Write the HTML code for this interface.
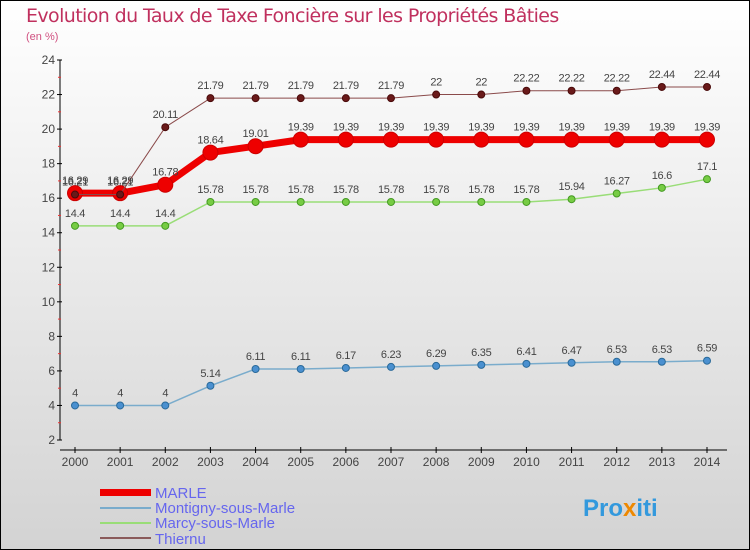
<!DOCTYPE html>
<html><head><meta charset="utf-8"><style>
body{margin:0}
#c{width:750px;height:550px;position:relative;box-sizing:border-box;border:1px solid #000;background:linear-gradient(#fff 0%,#f2f2f2 30%,#d3d3d3 100%);font-family:"DejaVu Sans","Liberation Sans",sans-serif;overflow:hidden}
svg text{font-family:"Liberation Sans",sans-serif}
</style></head><body>
<div id="c">
<svg id="s" width="750" height="550" style="position:absolute;left:-1px;top:-1px">
<text x="26" y="22" font-size="19" fill="#c0305e" style="letter-spacing:-0.6px;font-family:'DejaVu Sans',sans-serif">Evolution du Taux de Taxe Foncière sur les Propriétés Bâties</text>
<text x="26" y="40" font-size="11" fill="#d05080">(en %)</text>
<g id="ax"></g><g id="series"></g>
<g>
<rect x="100" y="489" width="51" height="7" fill="#ee0000"/>
<text x="155" y="498" font-size="15" fill="#6666ee">MARLE</text>
<rect x="100" y="507" width="51" height="2" fill="#7aaccc"/>
<text x="155" y="513" font-size="15" fill="#6666ee">Montigny-sous-Marle</text>
<rect x="100" y="522" width="51" height="2" fill="#99dd77"/>
<text x="155" y="528" font-size="15" fill="#6666ee">Marcy-sous-Marle</text>
<rect x="100" y="537" width="51" height="2" fill="#8a5a5a"/>
<text x="155" y="544" font-size="15" fill="#6666ee">Thiernu</text>
</g>
<text x="583" y="516" font-size="24" font-weight="bold" fill="#3399dd">Pro<tspan fill="#ee8800">x</tspan>iti</text>
</svg></div>
<script>
const years=[2000,2001,2002,2003,2004,2005,2006,2007,2008,2009,2010,2011,2012,2013,2014];
const marle=[16.29,16.29,16.78,18.64,19.01,19.39,19.39,19.39,19.39,19.39,19.39,19.39,19.39,19.39,19.39];
const montigny=[4,4,4,5.14,6.11,6.11,6.17,6.23,6.29,6.35,6.41,6.47,6.53,6.53,6.59];
const marcy=[14.4,14.4,14.4,15.78,15.78,15.78,15.78,15.78,15.78,15.78,15.78,15.94,16.27,16.6,17.1];
const thiernu=[16.21,16.21,20.11,21.79,21.79,21.79,21.79,21.79,22,22,22.22,22.22,22.22,22.44,22.44];
const yTicks=[2,4,6,8,10,12,14,16,18,20,22,24];
const NS="http://www.w3.org/2000/svg";
const X=i=>75+i*(707-75)/(years.length-1);
const Y=v=>440-(v-2)*(380/22);
function mk(t,a,p){const e=document.createElementNS(NS,t);for(const k in a)e.setAttribute(k,a[k]);p.appendChild(e);return e;}
const ax=document.getElementById('ax');
let l=mk('line',{x1:60,y1:60,x2:60,y2:440,stroke:'#000'},ax);


l=mk('line',{x1:60,y1:450,x2:727,y2:450,stroke:'#000'},ax);


yTicks.forEach(v=>{mk('line',{x1:57,y1:Y(v),x2:62,y2:Y(v),stroke:'#000'},ax);
 if(v<24)mk('line',{x1:58,y1:Y(v+1),x2:61,y2:Y(v+1),stroke:'#e33'},ax);
 const t=mk('text',{x:55,y:Y(v)+4,'font-size':12,'text-anchor':'end',fill:'#444'},ax);t.textContent=v;
 
 });
years.forEach((y,i)=>{mk('line',{x1:X(i),y1:447,x2:X(i),y2:453,stroke:'#000'},ax);
 const t=mk('text',{x:X(i),y:466,'font-size':12,'text-anchor':'middle',fill:'#444'},ax);t.textContent=y;
 
 });
const sg=document.getElementById('series');
function draw(name,vals,col,w,r,dot,stroke){
 const g=mk('g',{},sg);
 
 
 mk('polyline',{points:vals.map((v,i)=>X(i)+','+Y(v)).join(' '),fill:'none',stroke:col,'stroke-width':w,'stroke-linejoin':'round'},g);
 vals.forEach((v,i)=>{const c=mk('circle',{cx:X(i),cy:Y(v),r:r,fill:dot,stroke:stroke,'stroke-width':1},g);
  
  
  const t=mk('text',{x:X(i),y:Y(v)-9,'font-size':11,'text-anchor':'middle',fill:'#444','letter-spacing':'-0.3'},g);t.textContent=v;
  
  });
}
draw('montigny',montigny,'#7aaccc',1.5,3.5,'#4a90d0','#2a6a9a');
draw('marcy',marcy,'#99dd77',1.5,3.5,'#77cc44','#449922');
draw('marle',marle,'#ee0000',7,7.5,'#ee0000','#cc0000');
draw('thiernu',thiernu,'#8a4a4a',1,3.5,'#6a1a1a','#4a0a0a');
</script>
</body></html>
